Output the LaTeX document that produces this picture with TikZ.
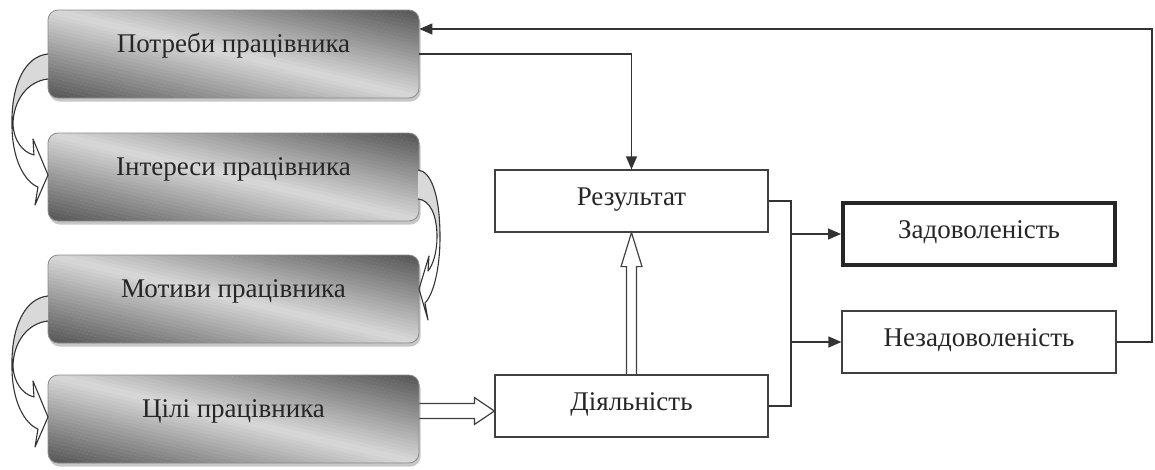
\documentclass[tikz,border=0pt]{standalone}
\usepackage{fontspec}
\setmainfont{Liberation Serif}
\usetikzlibrary{calc,arrows.meta}
\newcommand\gbox[4]{%
  \fill[black!22,rounded corners=10pt] (#2-184,#3+3.5) rectangle ++(371,88);
  \begin{scope}
    \clip[rounded corners=10pt] (#2-185.5,#3) rectangle ++(371,88);
    \foreach \i in {0,...,49}{%
      \pgfmathsetmacro\fa{-1+\i*0.04}%
      \pgfmathsetmacro\fc{15+52*abs(\fa+0.02)}%
      \pgfmathsetmacro\xs{#2-185.5+\fa*371}%
      \fill[black!\fc] (\xs,#3) -- ++(16,0) -- ++(371,88) -- ++(-16,0) -- cycle;
    }
  \end{scope}
  \node[graybox] (#1) at (#2,#3+42) {#4};
}
\begin{document}
\begin{tikzpicture}[x=1pt,y=-1pt,
  txt/.style={font=\fontsize{27}{32}\selectfont, text=black!85},
  graybox/.style={txt, rounded corners=10pt, draw=black!45, line width=0.8pt,
    minimum width=371pt, inner sep=0pt, text height=42pt, text depth=46pt, anchor=base},
  whitebox/.style={txt, draw=black!75, line width=1.2pt, fill=white, minimum width=273pt,
    inner sep=0pt, text height=35pt, text depth=27pt, anchor=base},
  conn/.style={draw=black!80, line width=1.3pt},
  arr/.style={conn, -{Triangle[length=13pt,width=11pt]}},
  hollow/.style={draw=black!75, line width=1.2pt, line join=miter},
  curv/.style={draw=black!80, line width=1.1pt, line join=round},
  face/.style={fill=black!15},
]
\useasboundingbox (0,0) rectangle (1155,469);

% gray boxes
\gbox{potr}{233.5}{10}{Потреби працівника}
\gbox{inter}{233.5}{133}{Інтереси працівника}
\gbox{motiv}{233.5}{255}{Мотиви працівника}
\gbox{cili}{233.5}{375}{Цілі працівника}

% white boxes
\node[whitebox] (rez)   at (631.5,205) {Результат};
\node[whitebox] (diyal) at (631.5,410) {Діяльність};
\node[whitebox, line width=4pt, draw=black!85, minimum width=272pt] (zad) at (979,238) {Задоволеність};
\node[whitebox, minimum width=274pt] (nezad) at (979,346) {Незадоволеність};

% connectors
\draw[arr] (potr.east) -| (rez.north);
\coordinate (fbc) at (1152,29);
\draw[arr] (nezad.east) -| (fbc) -- (potr.east |- fbc);
\coordinate (bx) at (791,0);
\draw[conn] (rez.east) -| (bx |- diyal.east) -- (diyal.east);
\draw[arr] (bx |- zad.west) -- (zad.west);
\draw[arr] (bx |- nezad.west) -- (nezad.west);

% hollow arrow up
\draw[hollow] ($(diyal.north)+(-5,0)$) -- ($(rez.south)+(-5,34)$) -- ($(rez.south)+(-10.5,34)$)
  -- (rez.south) -- ($(rez.south)+(10.5,34)$) -- ($(rez.south)+(5,34)$) -- ($(diyal.north)+(5,0)$);

% hollow arrow right
\coordinate (tip) at ($(diyal.west)+(0,5)$);
\draw[hollow] ($(cili.east |- tip)+(0,-7.5)$) -- ($(tip)+(-20,-7.5)$) -- ($(tip)+(-20,-13.5)$)
  -- (tip) -- ($(tip)+(-20,13.5)$) -- ($(tip)+(-20,7.5)$) -- ($(cili.east |- tip)+(0,7.5)$);

% curved arrows on the left
\foreach \dy in {0,242}{
  \begin{scope}[shift={(0,\dy)}]
    \fill[face] (48,54) .. controls (25,56) and (11,85) .. (12,125) -- (13,125)
      .. controls (13,100) and (28,81) .. (48,79) -- cycle;
    \draw[curv] (48,54) .. controls (25,56) and (11,85) .. (12,125)
      .. controls (12,160) and (25,182) .. (38,187) -- (35,205) -- (48,175) -- (33,139) -- (34,155)
      .. controls (22,152) and (14,140) .. (13,125)
      .. controls (13,100) and (28,81) .. (48,79);
  \end{scope}
}
% curved arrow on the right
\fill[face] (418,170) .. controls (431,171) and (440,195) .. (440,237) -- (437,237)
  .. controls (437,215) and (430,200) .. (418,199) -- cycle;
\draw[curv] (418,170) .. controls (431,171) and (440,195) .. (440,237)
  .. controls (440,270) and (433,295) .. (425,303) -- (428,320) -- (419,289) -- (429,256) -- (428,271)
  .. controls (433,265) and (437,252) .. (437,237)
  .. controls (437,215) and (430,200) .. (418,199);
\end{tikzpicture}
\end{document}
